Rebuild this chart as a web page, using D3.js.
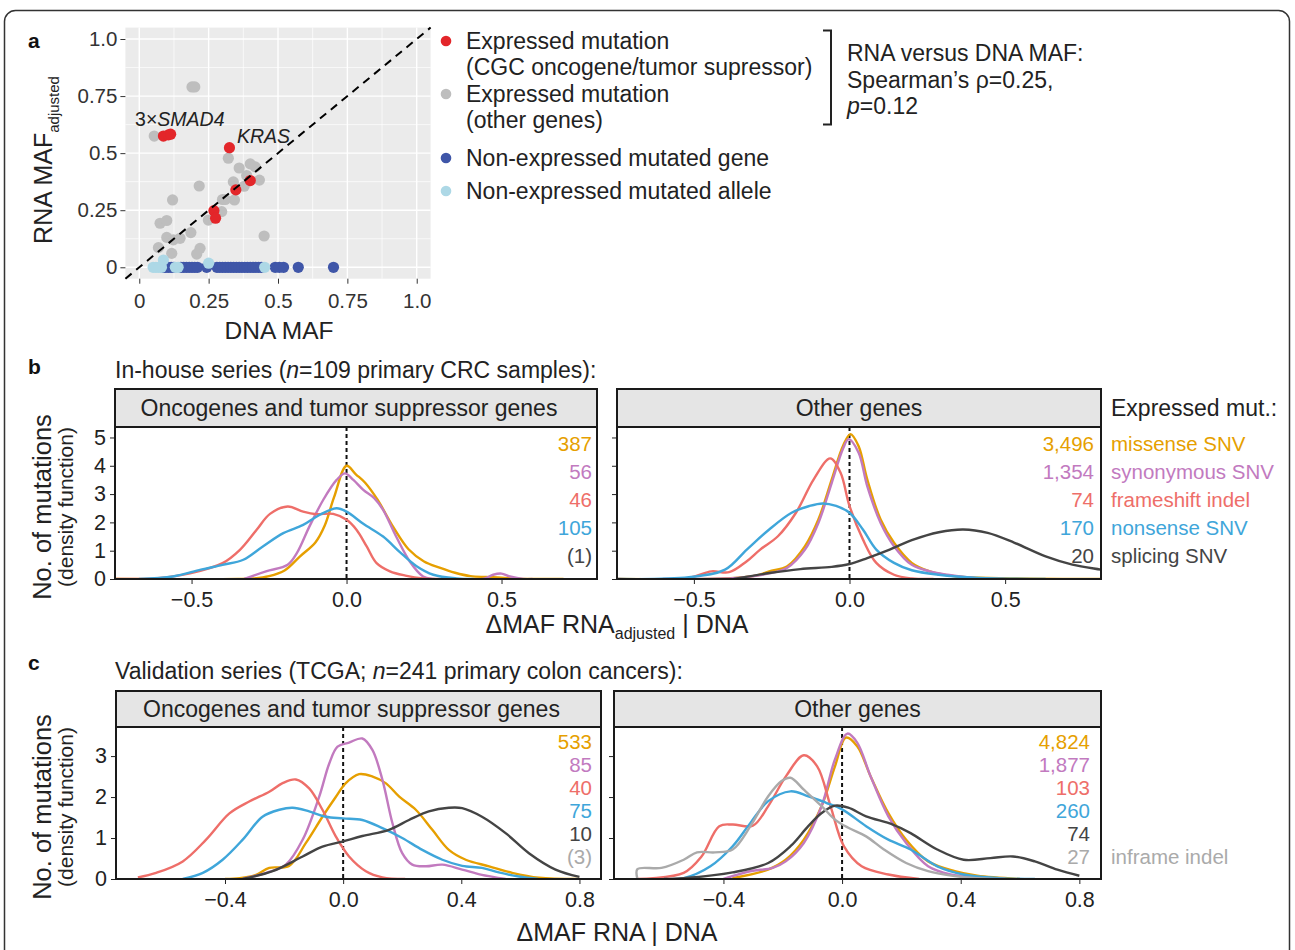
<!DOCTYPE html>
<meta charset="utf-8">
<style>
body { margin: 0; background: #fff; }
text { font-family: "Liberation Sans", Arial, Helvetica, sans-serif; }
</style>
<body>
<script src="https://d3js.org/d3.v7.min.js"></script>
<script>

// ---------- panel a data (DNA MAF / RNA MAF adjusted) ----------
var cgcDna   = [0.087, 0.105, 0.113, 0.325, 0.40, 0.348, 0.269, 0.275];
var cgcRna   = [0.575, 0.58, 0.583, 0.524, 0.38, 0.339, 0.248, 0.215];
var otherDna = [0.19, 0.20, 0.054, 0.321, 0.36, 0.40, 0.418, 0.387, 0.433, 0.339, 0.378, 0.216,
                0.343, 0.30, 0.31, 0.12, 0.297, 0.249, 0.075, 0.099, 0.186, 0.099, 0.123, 0.147,
                0.45, 0.069, 0.219, 0.207, 0.117];
var otherRna = [0.79, 0.79, 0.575, 0.478, 0.435, 0.453, 0.44, 0.402, 0.382, 0.374, 0.355, 0.356,
                0.295, 0.297, 0.297, 0.295, 0.244, 0.207, 0.193, 0.205, 0.152, 0.131, 0.12, 0.127,
                0.137, 0.086, 0.083, 0.058, 0.061];
var nonExprGeneDna = [0.085, 0.095, 0.105, 0.115, 0.125, 0.15, 0.16, 0.17, 0.18, 0.19, 0.20, 0.21,
                      0.243, 0.28, 0.29, 0.30, 0.31, 0.32, 0.33, 0.34, 0.35, 0.36, 0.37, 0.38, 0.39,
                      0.40, 0.41, 0.42, 0.43, 0.44, 0.49, 0.505, 0.52, 0.573, 0.70];
var nonExprAlleleDna = [0.05, 0.06, 0.07, 0.08, 0.087, 0.13, 0.14, 0.25, 0.452];
var nonExprAlleleRna = [0, 0, 0, 0, 0.032, 0, 0, 0.018, 0];

var aTicks = [0, 0.25, 0.5, 0.75, 1];
var aTickLabels = ["0", "0.25", "0.5", "0.75", "1.0"];

// ---------- panels b / c data ----------
var mutTypes = ["missense SNV", "synonymous SNV", "frameshift indel", "nonsense SNV", "splicing SNV", "inframe indel"];
var typeColors = ["#E69F00", "#C27ABF", "#EE6E69", "#3FA6DA", "#444444", "#AAAAAA"];

var countsBOnc   = ["387", "56", "46", "105", "(1)"];
var countsBOther = ["3,496", "1,354", "74", "170", "20"];
var countsCOnc   = ["533", "85", "40", "75", "10", "(3)"];
var countsCOther = ["4,824", "1,877", "103", "260", "74", "27"];

// density curves: [delta MAF, density]
var bOncMissense = [[-0.747,0],[-0.35,0],[-0.3,0.02],[-0.25,0.1],[-0.2,0.3],[-0.15,0.8],[-0.1,1.3],[-0.07,1.9],[-0.04,2.9],[0,4.0],[0.03,3.7],[0.06,3.4],[0.1,2.8],[0.15,1.85],[0.2,1.05],[0.25,0.62],[0.3,0.4],[0.35,0.22],[0.4,0.1],[0.45,0.07],[0.5,0.05],[0.55,0.01],[0.6,0],[0.7,0]];
var bOncSynonymous = [[-0.33,0],[-0.26,0.27],[-0.19,0.5],[-0.16,0.92],[-0.12,1.85],[-0.075,2.8],[-0.032,3.5],[-0.005,3.73],[0.022,3.5],[0.054,3.15],[0.09,2.85],[0.118,2.44],[0.16,1.5],[0.204,0.62],[0.247,0.09],[0.28,0],[0.44,0],[0.473,0.15],[0.5,0.19],[0.527,0.09],[0.57,0],[0.6,0]];
var bOncFrameshift = [[-0.747,0],[-0.61,0.03],[-0.505,0.2],[-0.40,0.56],[-0.344,1.03],[-0.29,1.74],[-0.247,2.3],[-0.19,2.56],[-0.14,2.38],[-0.097,2.29],[-0.043,2.3],[0,2.09],[0.032,1.74],[0.065,1.15],[0.097,0.56],[0.14,0.27],[0.19,0.12],[0.247,0.02],[0.3,0]];
var bOncNonsense = [[-0.67,0],[-0.56,0.09],[-0.47,0.33],[-0.40,0.5],[-0.333,0.68],[-0.27,1.15],[-0.204,1.62],[-0.14,1.91],[-0.086,2.27],[-0.032,2.5],[0,2.38],[0.054,1.95],[0.118,1.5],[0.172,0.95],[0.226,0.45],[0.28,0.15],[0.355,0.02],[0.41,0]];

var bOtherMissense = [[-0.747,0],[-0.4,0.02],[-0.3,0.12],[-0.258,0.27],[-0.2,0.45],[-0.143,1.16],[-0.1,2.1],[-0.057,3.52],[-0.021,4.7],[0.003,5.12],[0.029,4.7],[0.057,3.52],[0.1,2.1],[0.143,1.28],[0.2,0.57],[0.258,0.27],[0.344,0.09],[0.49,0.03],[0.808,0]];
var bOtherSynonymous = [[-0.6,0],[-0.35,0.05],[-0.258,0.2],[-0.2,0.4],[-0.143,1.04],[-0.1,1.98],[-0.057,3.4],[-0.021,4.6],[-0.003,4.94],[0.029,4.47],[0.057,3.28],[0.1,1.98],[0.143,1.16],[0.2,0.5],[0.258,0.27],[0.315,0.15],[0.415,0.02],[0.5,0]];
var bOtherFrameshift = [[-0.747,0],[-0.516,0.04],[-0.444,0.27],[-0.387,0.24],[-0.33,0.63],[-0.287,1.04],[-0.23,1.51],[-0.172,2.34],[-0.115,3.52],[-0.062,4.26],[-0.029,3.76],[0,2.58],[0.043,1.4],[0.086,0.57],[0.143,0.15],[0.2,0.02],[0.27,0]];
var bOtherNonsense = [[-0.747,0],[-0.516,0.06],[-0.4,0.33],[-0.33,1.04],[-0.258,1.75],[-0.186,2.34],[-0.129,2.58],[-0.086,2.67],[-0.043,2.58],[0,2.34],[0.043,1.75],[0.086,1.04],[0.143,0.57],[0.2,0.31],[0.287,0.15],[0.415,0.04],[0.63,0]];
var bOtherSplicing = [[-0.372,0],[-0.258,0.21],[-0.158,0.35],[-0.057,0.43],[0,0.53],[0.057,0.74],[0.129,1.04],[0.2,1.37],[0.287,1.65],[0.365,1.75],[0.444,1.63],[0.53,1.28],[0.63,0.8],[0.716,0.51],[0.82,0.31],[0.9,0.15]];

var cOncMissense = [[-0.4,0],[-0.35,0.02],[-0.295,0.1],[-0.25,0.27],[-0.183,0.32],[-0.126,0.88],[-0.07,1.52],[-0.025,2.0],[0.009,2.34],[0.054,2.56],[0.1,2.5],[0.144,2.34],[0.19,2.01],[0.246,1.69],[0.302,1.2],[0.358,0.71],[0.415,0.47],[0.494,0.31],[0.572,0.15],[0.663,0.03],[0.8,0]];
var cOncSynonymous = [[-0.34,0],[-0.26,0.15],[-0.194,0.35],[-0.137,0.96],[-0.081,2.01],[-0.047,2.82],[-0.019,3.23],[0.02,3.33],[0.065,3.43],[0.099,3.15],[0.133,2.42],[0.167,1.36],[0.2,0.63],[0.234,0.35],[0.28,0.31],[0.336,0.35],[0.403,0.23],[0.47,0.1],[0.55,0]];
var cOncFrameshift = [[-0.695,0.04],[-0.633,0.15],[-0.543,0.43],[-0.464,0.96],[-0.385,1.6],[-0.318,1.89],[-0.25,2.13],[-0.205,2.34],[-0.16,2.43],[-0.115,2.21],[-0.07,1.69],[-0.025,1.04],[0.02,0.55],[0.077,0.19],[0.133,0.04],[0.21,0]];
var cOncNonsense = [[-0.543,0],[-0.475,0.15],[-0.408,0.47],[-0.34,0.96],[-0.273,1.52],[-0.216,1.69],[-0.171,1.74],[-0.115,1.65],[-0.059,1.52],[0,1.48],[0.065,1.44],[0.133,1.24],[0.2,1.0],[0.268,0.71],[0.336,0.47],[0.403,0.32],[0.47,0.27],[0.527,0.16],[0.595,0.06],[0.66,0]];
var cOncSplicing = [[-0.34,0],[-0.239,0.19],[-0.137,0.55],[-0.07,0.79],[0,0.92],[0.065,1.05],[0.155,1.2],[0.223,1.44],[0.29,1.65],[0.358,1.74],[0.403,1.73],[0.47,1.52],[0.55,1.12],[0.629,0.63],[0.719,0.23],[0.8,0.05]];

var cOtherMissense = [[-0.37,0.02],[-0.25,0.23],[-0.19,0.47],[-0.129,0.96],[-0.069,1.78],[-0.024,2.75],[0.013,3.45],[0.051,3.24],[0.096,2.51],[0.156,1.61],[0.216,0.96],[0.29,0.43],[0.38,0.19],[0.456,0.08],[0.6,0]];
var cOtherSynonymous = [[-0.4,0],[-0.31,0.19],[-0.234,0.27],[-0.19,0.43],[-0.129,0.88],[-0.069,1.78],[-0.024,2.92],[0.018,3.55],[0.051,3.33],[0.096,2.51],[0.156,1.53],[0.216,0.88],[0.29,0.31],[0.366,0.11],[0.456,0.04],[0.55,0]];
var cOtherFrameshift = [[-0.69,0],[-0.534,0.15],[-0.474,0.55],[-0.414,1.29],[-0.369,1.33],[-0.301,1.3],[-0.249,1.78],[-0.189,2.51],[-0.129,3.02],[-0.084,2.75],[-0.039,1.78],[0.006,0.8],[0.066,0.31],[0.156,0.11],[0.26,0]];
var cOtherNonsense = [[-0.6,0],[-0.534,0.02],[-0.444,0.31],[-0.369,0.8],[-0.309,1.37],[-0.249,1.9],[-0.174,2.14],[-0.114,2.02],[-0.054,1.86],[0,1.7],[0.081,1.29],[0.156,0.96],[0.231,0.72],[0.321,0.31],[0.41,0.11],[0.53,0.02],[0.65,0]];
var cOtherSplicing = [[-0.6,0],[-0.534,0.02],[-0.369,0.16],[-0.249,0.39],[-0.174,0.8],[-0.114,1.29],[-0.069,1.61],[-0.024,1.79],[0.021,1.74],[0.081,1.53],[0.171,1.33],[0.231,1.12],[0.321,0.72],[0.41,0.47],[0.5,0.51],[0.576,0.55],[0.65,0.43],[0.726,0.23],[0.8,0.08]];
var cOtherInframe = [[-0.69,0],[-0.69,0.24],[-0.609,0.27],[-0.534,0.47],[-0.489,0.65],[-0.429,0.65],[-0.369,0.72],[-0.309,1.29],[-0.249,2.02],[-0.204,2.39],[-0.174,2.47],[-0.129,2.18],[-0.069,1.78],[-0.024,1.45],[0.021,1.25],[0.081,1.04],[0.141,0.72],[0.216,0.39],[0.29,0.19],[0.38,0.07],[0.456,0.02],[0.55,0]];

var bTicksX = [-0.5, 0, 0.5], bTicksY = [0, 1, 2, 3, 4, 5];
var cTicksX = [-0.4, 0, 0.4, 0.8], cTicksY = [0, 1, 2, 3];

var FONT = "'Liberation Sans', Arial, Helvetica, sans-serif";
var ink = "#222";

var svg = d3.select("body").append("svg")
    .attr("width", 1295)
    .attr("height", 950);

// outer rounded frame
svg.append("rect")
    .attr("x", 4.5).attr("y", 10.5)
    .attr("width", 1285).attr("height", 970)
    .attr("rx", 11)
    .attr("fill", "none")
    .attr("stroke", "#333")
    .attr("stroke-width", 1.5);

// ================= panel a =================
var ax = d3.scaleLinear().domain([-0.05, 1.05]).range([125.4, 430.6]);
var ay = d3.scaleLinear().domain([-0.05, 1.05]).range([278.7, 27.6]);
var ga = svg.append("g");

ga.append("rect")
    .attr("x", ax(-0.05)).attr("y", ay(1.05))
    .attr("width", ax(1.05) - ax(-0.05)).attr("height", ay(-0.05) - ay(1.05))
    .attr("fill", "#EBEBEB");

var minorA = [0.125, 0.375, 0.625, 0.875];
ga.selectAll(".vminor").data(minorA).enter().append("line")
    .attr("x1", ax).attr("x2", ax).attr("y1", ay(-0.05)).attr("y2", ay(1.05))
    .attr("stroke", "#fff").attr("stroke-width", 0.7);
ga.selectAll(".hminor").data(minorA).enter().append("line")
    .attr("y1", ay).attr("y2", ay).attr("x1", ax(-0.05)).attr("x2", ax(1.05))
    .attr("stroke", "#fff").attr("stroke-width", 0.7);
ga.selectAll(".vmajor").data(aTicks).enter().append("line")
    .attr("x1", ax).attr("x2", ax).attr("y1", ay(-0.05)).attr("y2", ay(1.05))
    .attr("stroke", "#fff").attr("stroke-width", 1.4);
ga.selectAll(".hmajor").data(aTicks).enter().append("line")
    .attr("y1", ay).attr("y2", ay).attr("x1", ax(-0.05)).attr("x2", ax(1.05))
    .attr("stroke", "#fff").attr("stroke-width", 1.4);

function dots(xs, ys, color) {
  ga.selectAll(null).data(xs).enter().append("circle")
      .attr("cx", function(d) { return ax(d); })
      .attr("cy", function(d, i) { return ay(ys ? ys[i] : 0); })
      .attr("r", 5.6)
      .attr("fill", color);
}
dots(otherDna, otherRna, "#BEBEBE");
dots(cgcDna, cgcRna, "#E3262A");
dots(nonExprGeneDna, null, "#3F56A8");
dots(nonExprAlleleDna, nonExprAlleleRna, "#ADD8E6");

// identity line
ga.append("line")
    .attr("x1", ax(-0.05)).attr("y1", ay(-0.05))
    .attr("x2", ax(1.05)).attr("y2", ay(1.05))
    .attr("stroke", "#000").attr("stroke-width", 2)
    .attr("stroke-dasharray", "8,6");

// axes
ga.append("g")
    .attr("transform", "translate(" + ax(-0.05) + ",0)")
    .call(d3.axisLeft(ay).tickValues(aTicks).tickSize(5).tickPadding(3).tickSizeOuter(0)
        .tickFormat(function(d, i) { return aTickLabels[i]; }))
    .call(function(g) { g.select(".domain").remove(); })
    .attr("color", "#333").attr("font-size", 20.5).attr("font-family", FONT);
ga.append("g")
    .attr("transform", "translate(0," + ay(-0.05) + ")")
    .call(d3.axisBottom(ax).tickValues(aTicks).tickSize(5).tickPadding(10).tickSizeOuter(0)
        .tickFormat(function(d, i) { return aTickLabels[i]; }))
    .call(function(g) { g.select(".domain").remove(); })
    .attr("color", "#333").attr("font-size", 20.5).attr("font-family", FONT);

// axis titles
var ylab = ga.append("text")
    .attr("transform", "translate(52,160) rotate(-90)")
    .attr("text-anchor", "middle").attr("fill", ink);
ylab.append("tspan").attr("font-size", 25).text("RNA MAF");
ylab.append("tspan").attr("font-size", 15).attr("dy", 7).text("adjusted");
ga.append("text").attr("x", 279).attr("y", 339).attr("text-anchor", "middle")
    .attr("font-size", 24.5).attr("fill", ink).text("DNA MAF");

// annotations
var sm = ga.append("text").attr("x", ax(-0.015)).attr("y", ay(0.62))
    .attr("font-size", 19.5).attr("fill", ink);
sm.append("tspan").text("3×");
sm.append("tspan").attr("font-style", "italic").text("SMAD4");
ga.append("text").attr("x", ax(0.352)).attr("y", ay(0.545))
    .attr("font-size", 19.5).attr("font-style", "italic").attr("fill", ink).text("KRAS");

// panel label
svg.append("text").attr("x", 28).attr("y", 48).attr("font-size", 21)
    .attr("font-weight", "bold").attr("fill", "#111").text("a");

// legend
var legA = [
  {c: "#E3262A", lines: ["Expressed mutation", "(CGC oncogene/tumor supressor)"], y: 41},
  {c: "#BEBEBE", lines: ["Expressed mutation", "(other genes)"], y: 94},
  {c: "#3F56A8", lines: ["Non-expressed mutated gene"], y: 158},
  {c: "#ADD8E6", lines: ["Non-expressed mutated allele"], y: 191}
];
legA.forEach(function(l) {
  svg.append("circle").attr("cx", 446).attr("cy", l.y).attr("r", 5.3).attr("fill", l.c);
  l.lines.forEach(function(s, i) {
    svg.append("text").attr("x", 466).attr("y", l.y + 8 + i * 26)
        .attr("font-size", 23).attr("fill", ink).text(s);
  });
});
svg.append("path")
    .attr("d", "M823,30.5 H831 V124.5 H823")
    .attr("fill", "none").attr("stroke", "#222").attr("stroke-width", 2);
var corr = ["RNA versus DNA MAF:", "Spearman’s ρ=0.25,"];
corr.forEach(function(s, i) {
  svg.append("text").attr("x", 847).attr("y", 61 + i * 26.5)
      .attr("font-size", 23).attr("fill", ink).text(s);
});
var pv = svg.append("text").attr("x", 847).attr("y", 114).attr("font-size", 23).attr("fill", ink);
pv.append("tspan").attr("font-style", "italic").text("p");
pv.append("tspan").text("=0.12");

// ================= panels b and c =================
var lineGen = function(xs, ys) {
  return d3.line()
      .x(function(d) { return xs(d[0]); })
      .y(function(d) { return ys(d[1]); })
      .curve(d3.curveCatmullRom.alpha(0.5));
};

var clipId = 0;
function facetRow(o) {
  var g = svg.append("g");
  // panel label and title
  g.append("text").attr("x", 28).attr("y", o.labelY).attr("font-size", 21)
      .attr("font-weight", "bold").attr("fill", "#111").text(o.label);
  var t = g.append("text").attr("x", 115).attr("y", o.titleY).attr("font-size", 23).attr("fill", ink);
  t.append("tspan").text(o.title[0]);
  t.append("tspan").attr("font-style", "italic").text("n");
  t.append("tspan").text(o.title[1]);

  var y = d3.scaleLinear().domain(o.yDomain).range([o.panelBottom, o.panelTop]);
  var stripNames = ["Oncogenes and tumor suppressor genes", "Other genes"];
  var stripDx = [-7, 0];

  o.facets.forEach(function(f, fi) {
    var x = d3.scaleLinear().domain(o.xDomain).range([f[0], f[1]]);
    var id = "clip" + (clipId++);
    g.append("clipPath").attr("id", id).append("rect")
        .attr("x", f[0]).attr("y", o.panelTop)
        .attr("width", f[1] - f[0]).attr("height", o.panelBottom - o.panelTop);

    // strip
    g.append("rect").attr("x", f[0]).attr("y", o.stripTop)
        .attr("width", f[1] - f[0]).attr("height", o.panelTop - o.stripTop)
        .attr("fill", "#E5E5E5").attr("stroke", "#1a1a1a").attr("stroke-width", 2);
    g.append("text").attr("x", (f[0] + f[1]) / 2 + stripDx[fi]).attr("y", (o.stripTop + o.panelTop) / 2 + 8)
        .attr("text-anchor", "middle").attr("font-size", 23).attr("fill", ink)
        .text(stripNames[fi]);

    // zero reference
    g.append("line").attr("x1", x(0)).attr("x2", x(0))
        .attr("y1", o.panelTop).attr("y2", o.panelBottom)
        .attr("stroke", "#111").attr("stroke-width", 2).attr("stroke-dasharray", "4,3");

    // density curves
    var cg = g.append("g").attr("clip-path", "url(#" + id + ")");
    o.curves[fi].forEach(function(c) {
      cg.append("path").datum(c.data)
          .attr("d", lineGen(x, y))
          .attr("fill", "none")
          .attr("stroke", typeColors[c.type])
          .attr("stroke-width", 2.4)
          .attr("stroke-linejoin", "round");
    });

    // counts
    o.counts[fi].forEach(function(s, i) {
      g.append("text").attr("x", f[0] + o.countRight).attr("y", o.countY0 + i * o.countStep)
          .attr("text-anchor", "end").attr("font-size", 20.5)
          .attr("fill", typeColors[i]).text(s);
    });

    // axes
    g.append("g")
        .attr("transform", "translate(" + f[0] + ",0)")
        .call(d3.axisLeft(y).tickValues(o.yTicks).tickSize(5).tickPadding(4).tickSizeOuter(0)
            .tickFormat(fi === 0 ? d3.format("d") : ""))
        .call(function(a) { a.select(".domain").remove(); })
        .attr("color", "#222").attr("font-size", 21.5).attr("font-family", FONT);
    g.append("g")
        .attr("transform", "translate(0," + o.panelBottom + ")")
        .call(d3.axisBottom(x).tickValues(o.xTicks).tickSize(5).tickPadding(8).tickSizeOuter(0)
            .tickFormat(d3.format(".1f")))
        .call(function(a) { a.select(".domain").remove(); })
        .attr("color", "#222").attr("font-size", 21.5).attr("font-family", FONT);

    // panel border
    g.append("rect").attr("x", f[0]).attr("y", o.panelTop)
        .attr("width", f[1] - f[0]).attr("height", o.panelBottom - o.panelTop)
        .attr("fill", "none").attr("stroke", "#1a1a1a").attr("stroke-width", 2);
  });

  // legend text at right
  if (o.legendTitle) {
    g.append("text").attr("x", 1111).attr("y", (o.stripTop + o.panelTop) / 2 + 8)
        .attr("font-size", 23).attr("fill", ink).text(o.legendTitle);
  }
  o.legendIdx.forEach(function(k) {
    g.append("text").attr("x", 1111).attr("y", o.countY0 + k * o.countStep)
        .attr("font-size", 20.5).attr("fill", typeColors[k]).text(mutTypes[k]);
  });

  // y title
  var yc = (o.panelTop + o.panelBottom) / 2 + 4;
  g.append("text").attr("transform", "translate(51," + yc + ") rotate(-90)")
      .attr("text-anchor", "middle").attr("font-size", 25.5).attr("fill", ink)
      .text("No. of mutations");
  g.append("text").attr("transform", "translate(73," + yc + ") rotate(-90)")
      .attr("text-anchor", "middle").attr("font-size", 21).attr("fill", ink)
      .text("(density function)");

  // x title
  var xt = g.append("text").attr("x", 617).attr("y", o.xTitleY)
      .attr("text-anchor", "middle").attr("font-size", 25).attr("fill", ink);
  xt.append("tspan").text(o.xTitle[0]);
  if (o.xTitle[1]) {
    xt.append("tspan").attr("font-size", 16).attr("dy", 6).text(o.xTitle[1]);
    xt.append("tspan").attr("dy", -6).text(o.xTitle[2]);
  }
}

function withType(list) {
  return list.map(function(d) { return {type: d[0], data: d[1]}; });
}

facetRow({
  label: "b", labelY: 374, titleY: 378,
  title: ["In-house series (", "=109 primary CRC samples):"],
  stripTop: 389, panelTop: 427, panelBottom: 579,
  facets: [[115, 597], [617, 1101]],
  xDomain: [-0.747, 0.808], yDomain: [0, 5.37],
  xTicks: bTicksX, yTicks: bTicksY,
  curves: [
    withType([[0, bOncMissense], [1, bOncSynonymous], [2, bOncFrameshift], [3, bOncNonsense]]),
    withType([[0, bOtherMissense], [1, bOtherSynonymous], [2, bOtherFrameshift], [3, bOtherNonsense], [4, bOtherSplicing]])
  ],
  counts: [countsBOnc, countsBOther],
  countRight: 477, countY0: 451, countStep: 28,
  legendTitle: "Expressed mut.:", legendIdx: [0, 1, 2, 3, 4],
  xTitle: ["ΔMAF RNA", "adjusted", " | DNA"], xTitleY: 633
});

facetRow({
  label: "c", labelY: 670, titleY: 679,
  title: ["Validation series (TCGA; ", "=241 primary colon cancers):"],
  stripTop: 691, panelTop: 727, panelBottom: 879,
  facets: [[116, 601], [614, 1101]],
  xDomain: [-0.769, 0.873], yDomain: [0, 3.71],
  xTicks: cTicksX, yTicks: cTicksY,
  curves: [
    withType([[0, cOncMissense], [1, cOncSynonymous], [2, cOncFrameshift], [3, cOncNonsense], [4, cOncSplicing]]),
    withType([[0, cOtherMissense], [1, cOtherSynonymous], [2, cOtherFrameshift], [3, cOtherNonsense], [4, cOtherSplicing], [5, cOtherInframe]])
  ],
  counts: [countsCOnc, countsCOther],
  countRight: 476, countY0: 749, countStep: 23,
  legendTitle: null, legendIdx: [5],
  xTitle: ["ΔMAF RNA | DNA"], xTitleY: 941
});

</script>
</body>
